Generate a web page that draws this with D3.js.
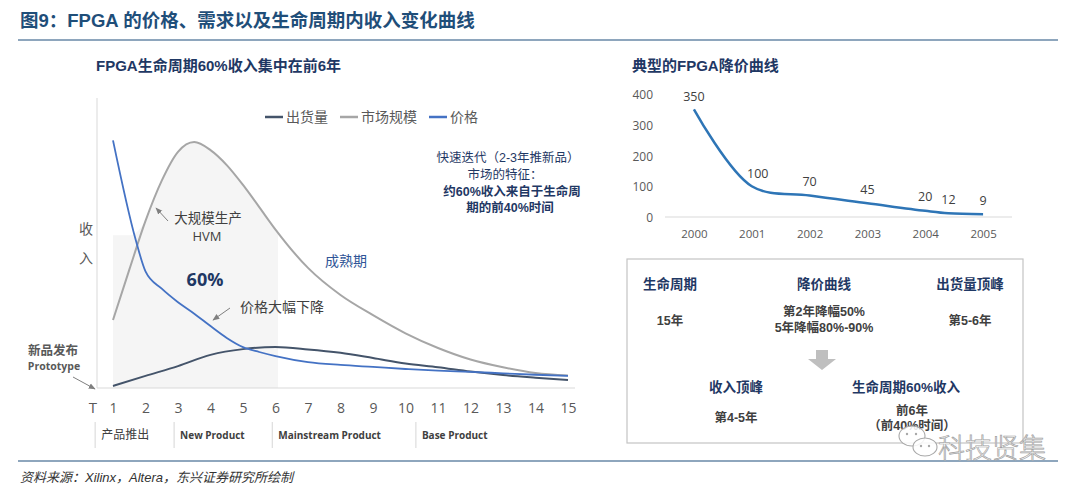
<!DOCTYPE html>
<html>
<head>
<meta charset="utf-8">
<script src="https://cdn.jsdelivr.net/npm/d3@7"></script>
<style>
  html, body { margin: 0; padding: 0; background: #fff; }
  svg { display: block; }
</style>
</head>
<body>
<svg id="chart" width="1080" height="493"></svg>
<script>
// ---------------- DATA ----------------
// Left chart: FPGA lifecycle (relative units, 0-100)
const lifeYears = [1, 2, 3, 4, 5, 6, 7, 8, 9, 10, 11, 12, 13, 14, 15];
const lifeTickLabels = ["1","2","3","4","5","6","7","8","9","10","11","12","13","14","15"];
const marketT = [1, 1.5, 2, 2.5, 3, 3.5, 4, 4.5, 5, 5.5, 6, 7, 8, 9, 10, 11, 12, 13, 14, 15];
const marketSize = [23.6, 41, 58, 72, 82, 85.4, 82.6, 77.4, 70.5, 62.8, 55, 41.7, 32.3, 25.3, 19, 13.9, 9.9, 7.2, 5.2, 4.3];
const priceT = [1, 1.7, 2, 2.5, 3, 3.5, 4, 4.5, 5, 5.5, 6, 7, 8, 9, 10, 11, 12, 13, 14, 15];
const priceLife = [86, 51.4, 40.5, 34.5, 29.8, 25.8, 21.5, 17.4, 14.2, 12.5, 11.1, 9, 8, 7.3, 6.6, 6.0, 5.6, 5.1, 4.6, 4.2];
const shipments = [0.7, 4.2, 7.6, 11.5, 13.5, 14.2, 13.4, 12.2, 10.4, 8.5, 7.2, 5.7, 4.5, 3.6, 2.8];
const seriesNames = ["出货量", "市场规模", "价格"];
const phaseLabels = ["产品推出", "New Product", "Mainstream Product", "Base Product"];
const phaseStarts = [0.45, 2.88, 5.9, 10.32];   // in lifecycle-year units
const highRevenueEnd = 6.08;                      // shaded band: years 1 - 6

// Right chart: typical FPGA price curve
const priceYears = [2000, 2001, 2002, 2003, 2004, 2004.4, 2005];
const priceValues = [350, 100, 70, 45, 20, 12, 9];
const yearTicks = [2000, 2001, 2002, 2003, 2004, 2005];
const priceTicks = [0, 100, 200, 300, 400];

// Summary box
const boxTop = [
  { head: "生命周期", lines: ["15年"] },
  { head: "降价曲线", lines: ["第2年降幅50%", "5年降幅80%-90%"] },
  { head: "出货量顶峰", lines: ["第5-6年"] }
];
const boxBottom = [
  { head: "收入顶峰", lines: ["第4-5年"] },
  { head: "生命周期60%收入", lines: ["前6年", "（前40%时间）"] }
];

// ---------------- DRAWING ----------------
const svg = d3.select("#chart");
const CJK = "'Liberation Sans', 'Noto Sans CJK SC', sans-serif";
const NAVY = "#1f3864";
const GRAYTXT = "#595959";
const C_SHIP = "#44546a", C_MKT = "#a6a6a6", C_PRICE = "#4472c4";

svg.append("rect").attr("width", 1080).attr("height", 493).attr("fill", "#fff");

// Title & rules
svg.append("text").attr("x", 20).attr("y", 20).attr("dominant-baseline", "central")
  .attr("font-family", CJK).attr("font-size", 18.5).attr("font-weight", "bold")
  .attr("fill", "#1f4e79").text("图9：FPGA 的价格、需求以及生命周期内收入变化曲线");
svg.append("line").attr("x1", 18).attr("x2", 1058).attr("y1", 40).attr("y2", 40)
  .attr("stroke", "#8ea6bd").attr("stroke-width", 2);
svg.append("line").attr("x1", 18).attr("x2", 1058).attr("y1", 461).attr("y2", 461)
  .attr("stroke", "#8ea6bd").attr("stroke-width", 2);
svg.append("text").attr("x", 20).attr("y", 477).attr("dominant-baseline", "central")
  .attr("font-family", CJK).attr("font-size", 13).attr("font-style", "italic")
  .attr("fill", "#333").text("资料来源：Xilinx，Altera，东兴证券研究所绘制");

// marker
const defs = svg.append("defs");
defs.append("marker").attr("id", "arr").attr("viewBox", "0 0 10 10").attr("refX", 9).attr("refY", 5)
  .attr("markerWidth", 7).attr("markerHeight", 7).attr("orient", "auto")
  .append("path").attr("d", "M0,1 L10,5 L0,9 z").attr("fill", "#7f7f7f");

// ---- Left chart ----
const xL = d3.scaleLinear().domain([1, 15]).range([113, 568]);
const yL = d3.scaleLinear().domain([0, 100]).range([388, 100]);

svg.append("text").attr("x", 96).attr("y", 65).attr("dominant-baseline", "central")
  .attr("font-family", CJK).attr("font-size", 15).attr("font-weight", "bold")
  .attr("fill", NAVY).text("FPGA生命周期60%收入集中在前6年");

// shaded high-revenue band
defs.append("clipPath").attr("id", "bandClip").append("rect")
  .attr("x", xL(1)).attr("y", 0).attr("width", xL(highRevenueEnd) - xL(1)).attr("height", 493);
const mktPts = marketT.map((t, i) => [t, marketSize[i]]);
svg.append("path").attr("clip-path", "url(#bandClip)")
  .attr("d", d3.area().x(d => xL(d[0])).y0(yL(0)).y1(d => yL(Math.max(d[1], 53))).curve(d3.curveMonotoneX)(mktPts))
  .attr("fill", "#f5f5f5");

// axes lines
svg.append("line").attr("x1", 97).attr("x2", 97).attr("y1", 98).attr("y2", 388)
  .attr("stroke", "#d9d9d9").attr("stroke-width", 1);
svg.append("line").attr("x1", 97).attr("x2", 575).attr("y1", 388).attr("y2", 388)
  .attr("stroke", "#d9d9d9").attr("stroke-width", 1);

// x axis via d3 axis
const axL = d3.axisBottom(xL).tickValues(lifeYears).tickFormat((d, i) => lifeTickLabels[i]).tickSize(0).tickPadding(0);
const gAxL = svg.append("g").attr("transform", "translate(0,407)").call(axL);
gAxL.select(".domain").remove();
gAxL.selectAll("text").attr("font-family", "'Open Sans', sans-serif").attr("font-size", 14)
  .attr("fill", GRAYTXT).attr("dy", null).attr("y", 0).attr("dominant-baseline", "central");
svg.append("text").attr("x", 93).attr("y", 407).attr("text-anchor", "middle").attr("dominant-baseline", "central")
  .attr("font-family", "'Open Sans', sans-serif").attr("font-size", 15).attr("fill", GRAYTXT).text("T");

// y label
[["收", 229], ["入", 258]].forEach(([t, y]) => {
  svg.append("text").attr("x", 86).attr("y", y).attr("text-anchor", "middle").attr("dominant-baseline", "central")
    .attr("font-family", CJK).attr("font-size", 14).attr("fill", GRAYTXT).text(t);
});

// lines
const lineL = d3.line().x(d => xL(d[0])).y(d => yL(d[1])).curve(d3.curveMonotoneX);
svg.append("path").attr("d", lineL(mktPts)).attr("fill", "none").attr("stroke", C_MKT).attr("stroke-width", 2);
svg.append("path").attr("d", lineL(lifeYears.map((t, i) => [t, shipments[i]])))
  .attr("fill", "none").attr("stroke", C_SHIP).attr("stroke-width", 2);
svg.append("path").attr("d", lineL(priceT.map((t, i) => [t, priceLife[i]])))
  .attr("fill", "none").attr("stroke", C_PRICE).attr("stroke-width", 1.8);

// legend
const legColors = [C_SHIP, C_MKT, C_PRICE];
const legX = [265, 340, 429];
seriesNames.forEach((n, i) => {
  svg.append("line").attr("x1", legX[i]).attr("x2", legX[i] + 18).attr("y1", 117).attr("y2", 117)
    .attr("stroke", legColors[i]).attr("stroke-width", 2.5);
  svg.append("text").attr("x", legX[i] + 21).attr("y", 117).attr("dominant-baseline", "central")
    .attr("font-family", CJK).attr("font-size", 14).attr("fill", GRAYTXT).text(n);
});

// phase labels below axis
phaseLabels.forEach((p, i) => {
  const px = xL(phaseStarts[i]);
  svg.append("line").attr("x1", px).attr("x2", px).attr("y1", 422).attr("y2", 448)
    .attr("stroke", "#d6d6d6").attr("stroke-width", 1);
  const isCJK = i === 0;
  svg.append("text").attr("x", px + 6).attr("y", 435).attr("dominant-baseline", "central")
    .attr("font-family", isCJK ? CJK : "'Open Sans', sans-serif").attr("font-size", isCJK ? 12 : 10)
    .attr("font-weight", isCJK ? "normal" : "bold").attr("fill", "#404040").text(p);
});

// annotations
function label(x, y, t, opts = {}) {
  return svg.append("text").attr("x", x).attr("y", y).attr("dominant-baseline", "central")
    .attr("text-anchor", opts.anchor || "start")
    .attr("font-family", opts.font || CJK).attr("font-size", opts.size || 13)
    .attr("font-weight", opts.weight || "normal").attr("fill", opts.fill || "#404040").text(t);
}
function arrow(x1, y1, x2, y2) {
  svg.append("line").attr("x1", x1).attr("y1", y1).attr("x2", x2).attr("y2", y2)
    .attr("stroke", "#7f7f7f").attr("stroke-width", 1).attr("marker-end", "url(#arr)");
}
label(208, 218, "大规模生产", { anchor: "middle", size: 13.5 });
label(207, 236, "HVM", { anchor: "middle", size: 13, font: "'Open Sans', sans-serif" });
arrow(168, 221, 156, 208);
label(205, 279, "60%", { anchor: "middle", size: 18, weight: "bold", fill: NAVY, font: "'Open Sans', sans-serif" });
label(240, 307, "价格大幅下降", { size: 14 });
arrow(230, 308, 213, 320);
label(325, 261, "成熟期", { size: 14, fill: "#2f5597" });
label(53, 351, "新品发布", { anchor: "middle", size: 12.5, weight: "bold", fill: GRAYTXT });
label(54, 366, "Prototype", { anchor: "middle", size: 10.5, weight: "bold", fill: GRAYTXT, font: "'Open Sans', sans-serif" });
arrow(73, 377, 95, 389);

label(508, 158, "快速迭代（2-3年推新品）", { anchor: "middle", size: 12.5, fill: NAVY });
label(505, 175, "市场的特征：", { anchor: "middle", size: 12.5, fill: NAVY });
label(512, 192, "约60%收入来自于生命周", { anchor: "middle", size: 12.5, weight: "bold", fill: NAVY });
label(510, 208, "期的前40%时间", { anchor: "middle", size: 12.5, weight: "bold", fill: NAVY });

// ---- Right chart ----
svg.append("text").attr("x", 632).attr("y", 65).attr("dominant-baseline", "central")
  .attr("font-family", CJK).attr("font-size", 15).attr("font-weight", "bold")
  .attr("fill", NAVY).text("典型的FPGA降价曲线");

const xR = d3.scaleLinear().domain([1999.5, 2005.5]).range([665, 1012]);
const yR = d3.scaleLinear().domain([0, 400]).range([217, 94]);

svg.append("line").attr("x1", xR(1999.5)).attr("x2", xR(2005.5)).attr("y1", yR(0)).attr("y2", yR(0))
  .attr("stroke", "#d9d9d9").attr("stroke-width", 1);

const ayR = d3.axisLeft(yR).tickValues(priceTicks).tickSize(0).tickPadding(0);
const gyR = svg.append("g").attr("transform", "translate(653,0)").call(ayR);
gyR.select(".domain").remove();
gyR.selectAll("text").attr("font-family", "'Open Sans', sans-serif").attr("font-size", 12)
  .attr("fill", GRAYTXT).attr("dy", null).attr("x", 0).attr("dominant-baseline", "central");

const axR = d3.axisBottom(xR).tickValues(yearTicks).tickFormat(d3.format("d")).tickSize(0).tickPadding(0);
const gxR = svg.append("g").attr("transform", "translate(0,233)").call(axR);
gxR.select(".domain").remove();
gxR.selectAll("text").attr("font-family", "'Open Sans', sans-serif").attr("font-size", 11.5)
  .attr("fill", GRAYTXT).attr("dy", null).attr("y", 0).attr("dominant-baseline", "central");

const rPts = priceYears.map((t, i) => [t, priceValues[i]]);
svg.append("path")
  .attr("d", d3.line().x(d => xR(d[0])).y(d => yR(d[1])).curve(d3.curveCatmullRom.alpha(0.5))(rPts))
  .attr("fill", "none").attr("stroke", "#2e75b6").attr("stroke-width", 2.5);
svg.selectAll(".plab").data(rPts).enter().append("text")
  .attr("x", d => xR(d[0]) + (d[1] === 100 ? 6 : 0))
  .attr("y", d => yR(d[1]) - (d[1] >= 100 ? 13 : 14))
  .attr("text-anchor", "middle").attr("dominant-baseline", "central")
  .attr("font-family", "'Open Sans', sans-serif").attr("font-size", 12.5).attr("fill", "#404040")
  .text(d => d[1]);

// ---- Summary box ----
svg.append("rect").attr("x", 627).attr("y", 259).attr("width", 396).attr("height", 184)
  .attr("fill", "#fff").attr("stroke", "#c4c4c4").attr("stroke-width", 1.2);
const topX = [670, 824, 970];
boxTop.forEach((b, i) => {
  label(topX[i], 284, b.head, { anchor: "middle", size: 13.5, weight: "bold", fill: NAVY });
  const ys = b.lines.length === 1 ? [321] : [312, 328];
  b.lines.forEach((l, j) => label(topX[i], ys[j], l, { anchor: "middle", size: 12.5, weight: "bold", fill: "#404040" }));
});
svg.append("path").attr("d", "M816,350 L828,350 L828,359 L836,359 L822,370 L808,359 L816,359 Z").attr("fill", "#bfbfbf");
const botX = [736, 906];
boxBottom.forEach((b, i) => {
  label(botX[i], 387, b.head, { anchor: "middle", size: 13.5, weight: "bold", fill: NAVY });
  const ys = b.lines.length === 1 ? [418] : [411, 426];
  b.lines.forEach((l, j) => label(botX[i] + (i === 1 ? 6 : 0), ys[j], l, { anchor: "middle", size: 12.5, weight: "bold", fill: "#404040" }));
});

// ---- Watermark ----
const wm = svg.append("g");
wm.append("ellipse").attr("cx", 912).attr("cy", 436).attr("rx", 13).attr("ry", 10)
  .attr("fill", "#fff").attr("fill-opacity", 0.85).attr("stroke", "#a8a8a8").attr("stroke-width", 1.1);
wm.append("ellipse").attr("cx", 925).attr("cy", 447).attr("rx", 12).attr("ry", 9)
  .attr("fill", "#fff").attr("fill-opacity", 0.85).attr("stroke", "#a8a8a8").attr("stroke-width", 1.1);
[[907, 434], [916, 434], [921, 446], [929, 446]].forEach(([cx, cy]) =>
  wm.append("circle").attr("cx", cx).attr("cy", cy).attr("r", 1.2).attr("fill", "#a8a8a8"));
wm.append("text").attr("x", 938).attr("y", 446).attr("dominant-baseline", "central")
  .attr("font-family", "'Noto Sans CJK SC', sans-serif").attr("font-size", 27).attr("font-weight", 300)
  .attr("fill", "#fff").attr("stroke", "#a0a0a0").attr("stroke-width", 0.7).text("科技贤集");
</script>
</body>
</html>
